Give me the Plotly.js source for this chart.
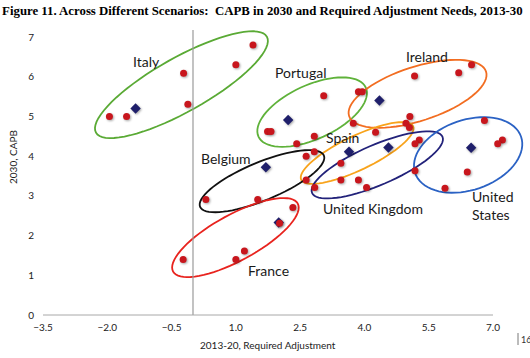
<!DOCTYPE html>
<html>
<head>
<meta charset="utf-8">
<script src="https://cdn.plot.ly/plotly-3.0.1.min.js"></script>
<style>
  html, body { margin: 0; padding: 0; background: #fff; }
  #chart { width: 530px; height: 358px; }
  .scatterlayer .point { filter: drop-shadow(1px 1.5px 0.8px rgba(0,0,0,0.35)); }
</style>
</head>
<body>
<div id="chart"></div>
<script>
// ---- Data ----
// Scenario outcomes (red dots): 2013-20 required adjustment vs 2030 CAPB
const scenCountry = ["Italy","Italy","Italy","Italy","Italy","Italy",
  "Portugal","Portugal","Portugal","Portugal","Portugal","Portugal","Portugal",
  "Ireland","Ireland","Ireland","Ireland","Ireland","Ireland","Ireland","Ireland",
  "Spain","Spain","Spain","Spain","Spain","Spain",
  "United Kingdom","United Kingdom","United Kingdom","United Kingdom","United Kingdom",
  "United States","United States","United States","United States","United States",
  "Belgium","Belgium",
  "France","France","France","France","France"];
const scenAdj = [-1.95,-1.55,-0.22,-0.12,1.0,1.4,
  3.05,3.86,3.95,1.74,1.82,2.83,2.42,
  5.17,6.2,6.5,5.06,4.97,5.05,3.74,4.26,
  2.64,2.83,3.45,2.64,5.28,5.18,
  2.84,3.45,3.86,4.05,5.18,
  6.8,7.22,7.11,6.4,5.88,
  0.3,1.51,
  2.33,2.02,1.2,1.0,-0.23];
const scenCapb = [5.0,5.0,6.09,5.31,6.3,6.8,
  5.52,5.62,5.62,4.62,4.62,4.5,4.31,
  6.02,6.1,6.3,5.0,4.83,4.72,4.83,4.6,
  4.0,4.11,3.82,3.4,4.41,4.31,
  3.21,3.4,3.4,3.21,3.63,
  4.9,4.41,4.31,3.6,3.19,
  2.91,2.91,
  2.71,2.31,1.61,1.4,1.4];
// Baseline (navy diamonds)
const baseCountry = ["Italy","Portugal","Ireland","Spain","United Kingdom","United States","Belgium","France"];
const baseAdj  = [-1.34, 2.22, 4.35, 3.64, 4.56, 6.49, 1.70, 2.0];
const baseCapb = [ 5.2,  4.91, 5.4,  4.11, 4.22, 4.21, 3.72, 2.33];
// Axis ticks
const xTicks = [-3.5,-2.0,-0.5,1.0,2.5,4.0,5.5,7.0];
const yTicks = [0,1,2,3,4,5,6,7];

// ---- Decorations (positions / styles) ----
const groupLabels = [
  {text:"Italy", x:-1.08, y:6.38},
  {text:"Portugal", x:2.5, y:6.10},
  {text:"Ireland", x:5.45, y:6.52},
  {text:"Spain", x:3.49, y:4.46},
  {text:"Belgium", x:0.77, y:3.95},
  {text:"United Kingdom", x:4.19, y:2.69},
  {text:"United<br>States", x:7.0, y:2.77},
  {text:"France", x:1.76, y:1.11}
];
// ellipse: centre in data units, semi-axes in pixels, tilt in degrees
const ellipses = [
  {cx:-0.27, cy:5.80, a:98, b:27, ang:29.3, color:"#5aaa35"},
  {cx:2.78,  cy:5.11, a:59, b:27, ang:24.6, color:"#5fb23a"},
  {cx:5.24,  cy:5.57, a:72, b:27, ang:18,   color:"#f26d21"},
  {cx:3.83,  cy:4.08, a:62, b:17, ang:25.6, color:"#f8a31b"},
  {cx:4.30,  cy:3.78, a:71, b:20, ang:23.3, color:"#22227a"},
  {cx:6.42,  cy:4.03, a:56, b:35, ang:19,   color:"#2b62c4"},
  {cx:1.61,  cy:3.37, a:67, b:19, ang:22.5, color:"#111111"},
  {cx:0.99,  cy:1.95, a:71, b:23, ang:28.6, color:"#e8231e"}
];

const W = 530, H = 358;
const margin = {l:43, r:5, t:25, b:43};
const xRange = [-3.5, 7.747];
const yRange = [0, 7.303];
const pxX = (W - margin.l - margin.r) / (xRange[1] - xRange[0]);
const pxY = (H - margin.t - margin.b) / (yRange[1] - yRange[0]);

function ellipsePath(e) {
  const th = e.ang * Math.PI / 180;
  let d = "";
  for (let i = 0; i <= 72; i++) {
    const t = i / 72 * 2 * Math.PI;
    const dxp = e.a * Math.cos(t) * Math.cos(th) - e.b * Math.sin(t) * Math.sin(th);
    const dyp = e.a * Math.cos(t) * Math.sin(th) + e.b * Math.sin(t) * Math.cos(th); // upward
    const x = e.cx + dxp / pxX;
    const y = e.cy + dyp / pxY;
    d += (i === 0 ? "M" : "L") + x.toFixed(4) + "," + y.toFixed(4);
  }
  return d + "Z";
}

const shapes = ellipses.map(e => ({
  type: "path", xref: "x", yref: "y", path: ellipsePath(e),
  line: {color: e.color, width: 1.8}, fillcolor: "rgba(0,0,0,0)", layer: "below"
}));
// vertical reference line at zero adjustment
shapes.push({type:"line", xref:"x", yref:"y", x0:0, x1:0, y0:0, y1:7.18,
  line:{color:"#9a9a9a", width:1.2}, layer:"below"});
// x axis line from -3.5 to 7.0
shapes.push({type:"line", xref:"paper", yref:"paper",
  x0:0, x1:(xTicks[xTicks.length-1]-xRange[0])/(xRange[1]-xRange[0]), y0:0, y1:0,
  line:{color:"#a8a8a8", width:1}});
// page number bar
shapes.push({type:"line", xref:"paper", yref:"paper",
  x0:(518-margin.l)/(W-margin.l-margin.r), x1:(518-margin.l)/(W-margin.l-margin.r),
  y0:(315-333)/(H-margin.t-margin.b), y1:(315-345)/(H-margin.t-margin.b),
  line:{color:"#555", width:0.8}});

const annotations = groupLabels.map(g => ({
  text: g.text, x: g.x, y: g.y, xref: "x", yref: "y", showarrow: false,
  font: {family: "Lato, sans-serif", size: 14, color: "#1a1a1a"}, align: "left"
}));
annotations.push({text:"2013-20, Required Adjustment", xref:"paper", yref:"paper",
  x:(268-margin.l)/(W-margin.l-margin.r), y:(315-345)/(H-margin.t-margin.b),
  xanchor:"center", yanchor:"middle", showarrow:false,
  font:{family:"Lato, sans-serif", size:10, color:"#222"}});
annotations.push({text:"2030, CAPB", xref:"paper", yref:"paper",
  x:(13-margin.l)/(W-margin.l-margin.r), y:(315-157)/(H-margin.t-margin.b),
  xanchor:"center", yanchor:"middle", textangle:-90, showarrow:false,
  font:{family:"Lato, sans-serif", size:10, color:"#222"}});
annotations.push({text:"16", xref:"paper", yref:"paper",
  x:(519-margin.l)/(W-margin.l-margin.r), y:(315-339)/(H-margin.t-margin.b),
  xanchor:"left", yanchor:"middle", showarrow:false,
  font:{family:"Lato, sans-serif", size:9, color:"#333"}});

const traces = [
  {type:"scatter", mode:"markers", x: baseAdj, y: baseCapb, text: baseCountry,
   name:"Baseline", marker:{symbol:"diamond", size:8, color:"#1f1f6b"}},
  {type:"scatter", mode:"markers", x: scenAdj, y: scenCapb, text: scenCountry,
   name:"Scenarios", marker:{symbol:"circle", size:7, color:"#c8161d"}}
];

const layout = {
  width: W, height: H, margin: margin,
  paper_bgcolor: "#fff", plot_bgcolor: "#fff",
  showlegend: false,
  title: {text: "<b>Figure 11. Across Different Scenarios:  CAPB in 2030 and Required Adjustment Needs, 2013-30</b>",
    font: {family: "Liberation Serif, Times New Roman, serif", size: 12.8, color: "#000"},
    x: 0.004, xanchor: "left", xref: "container", y: 0.972, yanchor: "middle", yref: "container"},
  xaxis: {range: xRange, tickvals: xTicks, tickformat: ".1f", showgrid: false, zeroline: false,
    showline: false, ticks: "", ticklabelstandoff: 5,
    tickfont: {family: "Lato, sans-serif", size: 10, color: "#222"}},
  yaxis: {range: yRange, tickvals: yTicks, showgrid: false, zeroline: false,
    showline: false, ticks: "", ticklabelstandoff: 8,
    tickfont: {family: "Lato, sans-serif", size: 10, color: "#222"}},
  shapes: shapes, annotations: annotations
};

Plotly.newPlot("chart", traces, layout, {displayModeBar: false, staticPlot: true});
</script>
</body>
</html>
